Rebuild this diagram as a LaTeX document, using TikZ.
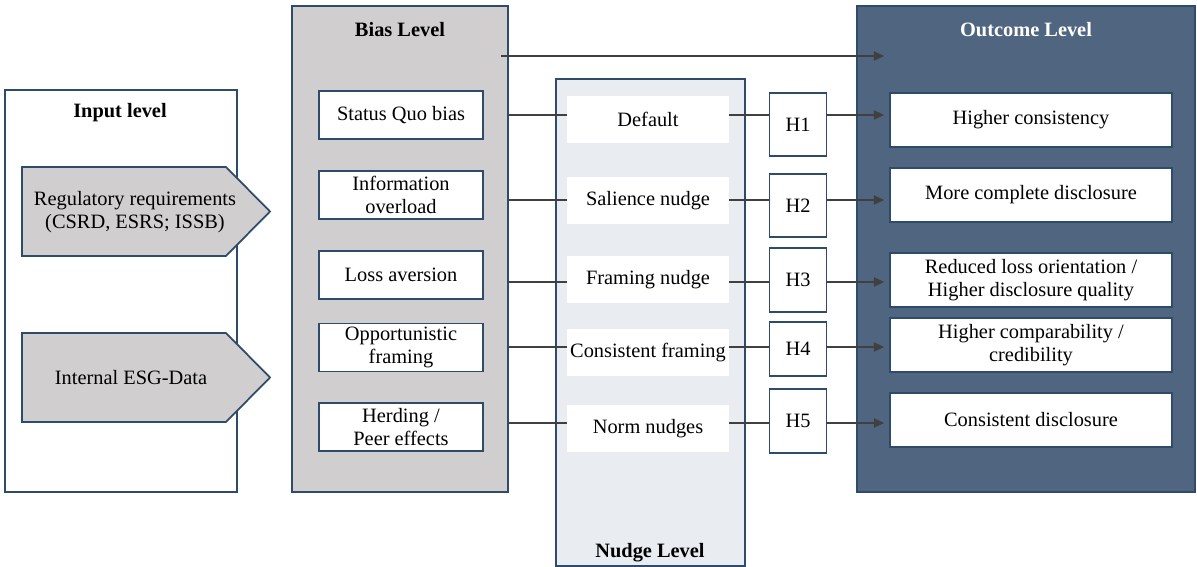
\documentclass[tikz,border=0pt]{standalone}
\usepackage{fontspec}
\setmainfont{Liberation Serif}
\usetikzlibrary{arrows.meta,calc}
\definecolor{outl}{HTML}{2F4B6B}
\definecolor{biasfill}{HTML}{D0CECE}
\definecolor{nudgefill}{HTML}{E9ECF1}
\definecolor{outfill}{HTML}{4F6580}
\definecolor{lin}{HTML}{404040}
\tikzset{
  sized/.style 2 args={minimum width=#1*0.02cm, minimum height=#2*0.02cm},
  panel/.style={draw=outl, line width=1pt, inner sep=0pt},
  item/.style={draw=outl, line width=1pt, fill=white, inner sep=0pt, align=center, text=black},
  nitem/.style={fill=white, inner sep=0pt, align=center, text=black},
  title/.style={font=\fontsize{11.6}{13}\selectfont\bfseries, inner sep=0pt},
  inarrow/.style={draw=outl, line width=1pt, fill=biasfill},
  conn/.style={draw=lin, line width=0.85pt},
  arr/.style={-{Triangle[length=5.8pt,width=5.2pt]}}
}
\begin{document}
\begin{tikzpicture}[x=0.02cm, y=-0.02cm, font=\fontsize{11.6}{13}\selectfont]
\useasboundingbox (0,0) rectangle (1197,567);

% Input level
\node[panel, fill=white, sized={232}{402}] (inp) at (121,291) {};
\node[title] (inpt) at (120,113) {Input level};
\draw[inarrow] (22,167) -- (226,167) -- (270,211.5) -- (226,256) -- (22,256) -- cycle;
\node[align=center, inner sep=0pt] (reg) at (135,212) {Regulatory requirements\\(CSRD, ESRS; ISSB)};
\draw[inarrow] (22,333) -- (226,333) -- (270,377.5) -- (226,422) -- (22,422) -- cycle;
\node[inner sep=0pt] (esg) at (131,378) {Internal ESG-Data};

% Bias level
\node[panel, fill=biasfill, sized={216}{486}] (bias) at (400,249) {};
\node[title] (biast) at (400,30) {Bias Level};
\node[item, sized={164}{48}] (b1) at (401,115) {Status Quo bias};
\node[item, sized={164}{48}] (b2) at (401,195) {Information\\overload};
\node[item, sized={164}{48}] (b3) at (401,275) {Loss aversion};
\node[item, sized={164}{48}] (b4) at (401,347.5) {Opportunistic\\framing};
\node[item, sized={164}{48}] (b5) at (401,427) {Herding /\\Peer effects};

% Nudge level
\node[panel, fill=nudgefill, sized={189}{487}] (nudge) at (650.5,322.5) {};
\node[title] (nudget) at (650,553) {Nudge Level};
\node[nitem, sized={162}{47}] (n1) at (648,119.5) {Default};
\node[nitem, sized={162}{47}] (n2) at (648,200.5) {Salience nudge};
\node[nitem, sized={162}{47}] (n3) at (648,280) {Framing nudge};
\node[nitem, sized={162}{47}] (n4) at (648,352.5) {Consistent framing};
\node[nitem, sized={162}{47}] (n5) at (648,428.5) {Norm nudges};

% Hypotheses
\node[item, sized={57}{63}] (h1) at (798,124.5) {H1};
\node[item, sized={57}{63}] (h2) at (798,205.5) {H2};
\node[item, sized={57}{64}] (h3) at (798,280) {H3};
\node[item, sized={57}{54}] (h4) at (798,349) {H4};
\node[item, sized={57}{64}] (h5) at (798,421) {H5};

% Outcome level
\node[panel, fill=outfill, sized={338}{486}] (out) at (1026,249) {};
\node[title, text=white] (outt) at (1026,30) {Outcome Level};
\node[item, sized={282}{54}] (o1) at (1031,120) {Higher consistency};
\node[item, sized={282}{54}] (o2) at (1031,195) {More complete disclosure};
\node[item, sized={282}{54}] (o3) at (1031,280) {Reduced loss orientation /\\Higher disclosure quality};
\node[item, sized={282}{54}] (o4) at (1031,345) {Higher comparability /\\credibility};
\node[item, sized={282}{54}] (o5) at (1031,420) {Consistent disclosure};

% connectors
\coordinate (T) at (0,56);
\coordinate (L1) at (0,115);
\coordinate (L2) at (0,200);
\coordinate (L3) at (0,282);
\coordinate (L4) at (0,347);
\coordinate (L5) at (0,423);
\draw[conn, arr] ($(bias.east |- T)+(-8,0)$) -- ($(out.west |- T)+(28,0)$);
\foreach \i in {1,...,5}{
  \draw[conn] (bias.east |- L\i) -- (n\i.west |- L\i);
  \draw[conn] (n\i.east |- L\i) -- (h\i.west |- L\i);
  \draw[conn, arr, shorten >=0.1cm] (h\i.east |- L\i) -- (o\i.west |- L\i);
}
\end{tikzpicture}
\end{document}
